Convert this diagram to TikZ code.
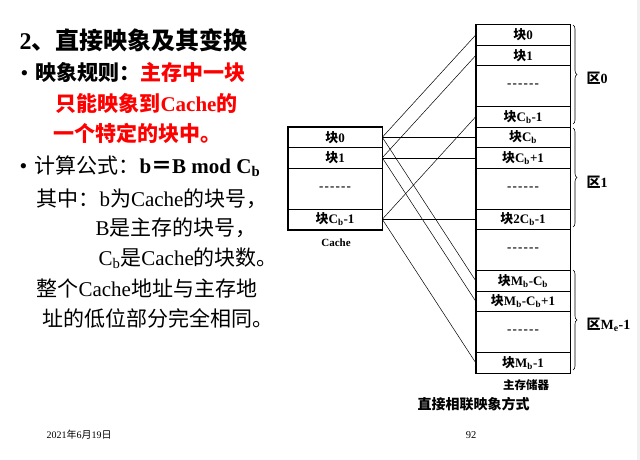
\documentclass[tikz,border=0pt]{standalone}
\usepackage{fontspec}
\setmainfont{Liberation Serif}
\newfontfamily\cjk{Noto Sans CJK SC}
\usetikzlibrary{decorations.pathreplacing}
\newcommand{\zh}[1]{{\cjk #1}}
\newcommand{\dashrow}{\makebox[32pt]{-\hfill-\hfill-\hfill-\hfill-\hfill-}}
\begin{document}
\begin{tikzpicture}[x=1pt,y=-1pt,
  row/.style={draw, line width=0.6pt, minimum width=94pt, inner sep=0pt,
    font=\bfseries\fontsize{13}{13}\selectfont},
  rowA/.style={row, minimum height=20.5pt},
  rowD/.style={row, minimum height=41pt},
  frame/.style={line width=1.4pt},
  conn/.style={line width=0.5pt},
  bracestyle/.style={decorate, decoration={brace, amplitude=4pt}, line width=0.6pt},
  zone/.style={anchor=west, font=\bfseries\fontsize{14}{14}\selectfont},
  bigtext/.style={anchor=base west, font=\fontsize{21}{21}\selectfont},
  bul/.style={anchor=base west, font=\fontsize{22}{22}\selectfont}
]
\useasboundingbox (0,0) rectangle (640,460);
\fill[white] (0,0) rectangle (640,460);
\fill[gray!12] (637,0) rectangle (640,460);

% main memory
\node[rowA] (m0)   at (523,35)     {\zh{块}0};
\node[rowA] (m1)   at (523,55.5)   {\zh{块}1};
\node[rowD] (md1)  at (523,86)     {\dashrow};
\node[rowA] (mcb1) at (523,116.75) {\zh{块}C\textsubscript{b}-1};
\node[rowA] (mcb)  at (523,137.25) {\zh{块}C\textsubscript{b}};
\node[rowA] (mcbp) at (523,157.75) {\zh{块}C\textsubscript{b}+1};
\node[rowD] (md2)  at (523,188.5)  {\dashrow};
\node[rowA] (m2cb) at (523,219.25) {\zh{块}2C\textsubscript{b}-1};
\node[rowD] (md3)  at (523,250)    {\dashrow};
\node[rowA] (mmc)  at (523,280.75) {\zh{块}M\textsubscript{b}-C\textsubscript{b}};
\node[rowA] (mmcp) at (523,301.25) {\zh{块}M\textsubscript{b}-C\textsubscript{b}+1};
\node[rowD] (md4)  at (523,332)    {\dashrow};
\node[rowA] (mm1)  at (523,362.75) {\zh{块}M\textsubscript{b}-1};
\draw[frame] (m0.north west) rectangle (mm1.south east);

% cache
\node[rowA] (c0)  at (335,137.25) {\zh{块}0};
\node[rowA] (c1)  at (335,157.75) {\zh{块}1};
\node[rowD] (cd)  at (335,188.5)  {\dashrow};
\node[rowA] (ccb) at (335,219.25) {\zh{块}C\textsubscript{b}-1};
\draw[frame] (c0.north west) rectangle (ccb.south east);
\node[font=\bfseries\fontsize{11}{11}\selectfont] (cachelab) at (336,243) {Cache};

% connectors
\draw[conn] (c0.east) -- (m0.west);
\draw[conn] (c0.east) -- (mcb.west);
\draw[conn] (c0.east) -- (mmc.west);
\draw[conn] (c1.east) -- (m1.west);
\draw[conn] (c1.east) -- (mcbp.west);
\draw[conn] (c1.east) -- (mmcp.west);
\draw[conn] (ccb.east) -- (mcb1.west);
\draw[conn] (ccb.east) -- (m2cb.west);
\draw[conn] (ccb.east) -- (mm1.west);

% braces
\coordinate (b0t) at (573,25);   \coordinate (b0b) at (573,124);
\coordinate (b1t) at (573,128);  \coordinate (b1b) at (573,227);
\coordinate (b2t) at (573,270);  \coordinate (b2b) at (573,370);
\draw[bracestyle] (b0t) -- (b0b);
\draw[bracestyle] (b1t) -- (b1b);
\draw[bracestyle] (b2t) -- (b2b);
\node[zone] (z0) at (583,78)  {\zh{区}0};
\node[zone] (z1) at (583,182) {\zh{区}1};
\node[zone] (z2) at (583,325) {\zh{区}M\textsubscript{e}-1};

\node[font=\bfseries\fontsize{11.5}{11.5}\selectfont] (mainlab) at (526,385) {\zh{主存储器}};
\node[anchor=west, font=\bfseries\fontsize{14}{14}\selectfont] (caption) at (414,404) {\zh{直接相联映象方式}};

% left text
\node[anchor=base west, font=\bfseries\fontsize{24}{24}\selectfont] (title) at (16,50) {2\zh{、直接映象及其变换}};
\node[bul] (bul1) at (17,81) {•};
\node[bigtext, font=\bfseries\fontsize{21}{21}\selectfont] (l1) at (32,81) {\zh{映象规则：}\textcolor{red}{\zh{主存中一块}}};
\node[bigtext, font=\bfseries\fontsize{21}{21}\selectfont, text=red] (l2) at (52,111) {\zh{只能映象到}Cache\zh{的}};
\node[bigtext, font=\bfseries\fontsize{21}{21}\selectfont, text=red] (l3) at (50,141) {\zh{一个特定的块中。}};
\node[bul] (bul2) at (16,173) {•};
\node[bigtext] (l4) at (31,173) {\zh{计算公式：}\textbf{b\zh{＝}B mod C\textsubscript{b}}};
\node[bigtext] (l5) at (33,206) {\zh{其中：}b\zh{为}Cache\zh{的块号，}};
\node[bigtext] (l6) at (92,235) {B\zh{是主存的块号，}};
\node[bigtext] (l7) at (95,265) {C\textsubscript{b}\zh{是}Cache\zh{的块数。}};
\node[bigtext] (l8) at (33,296) {\zh{整个}Cache\zh{地址与主存地}};
\node[bigtext] (l9) at (39,326) {\zh{址的低位部分完全相同。}};

% footer
\node[anchor=base west, font=\fontsize{10}{10}\selectfont] (date) at (43,438) {2021\zh{年}6\zh{月}19\zh{日}};
\node[anchor=base, font=\fontsize{10.5}{10.5}\selectfont] (page) at (471,438) {92};
\end{tikzpicture}
\end{document}
